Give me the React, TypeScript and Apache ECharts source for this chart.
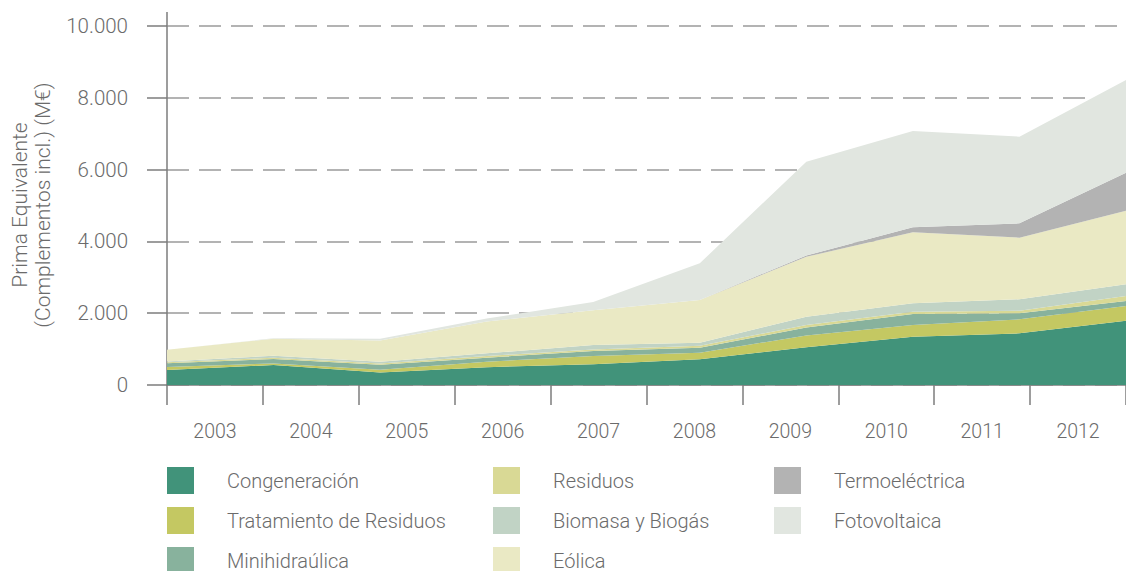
import React, { useEffect, useRef } from "react";
import * as echarts from "echarts";

const years = ["2003", "2004", "2005", "2006", "2007", "2008", "2009", "2010", "2011", "2012"];
const yTicks = [0, 2000, 4000, 6000, 8000, 10000];

const cogeneracion = [418, 557, 350, 495, 580, 715, 1050, 1346, 1439, 1792];
const tratamiento = [80, 45, 75, 155, 228, 185, 330, 325, 391, 408];
const minihidraulica = [105, 125, 140, 111, 139, 140, 220, 307, 166, 140];
const residuos = [30, 35, 37, 47, 45, 55, 70, 65, 74, 139];
const biomasa = [25, 50, 45, 74, 122, 84, 230, 232, 317, 326];
const eolica = [325, 475, 590, 890, 966, 1189, 1670, 1978, 1717, 2050];
const termoelectrica = [0, 0, 0, 0, 0, 0, 40, 140, 399, 1059];
const fotovoltaica = [0, 15, 50, 80, 230, 1022, 2610, 2682, 2414, 2582];

const seriesDefs = [
  { name: "Congeneración", data: cogeneracion, color: "#41937a" },
  { name: "Tratamiento de Residuos", data: tratamiento, color: "#c4c862" },
  { name: "Minihidraúlica", data: minihidraulica, color: "#88b29d" },
  { name: "Residuos", data: residuos, color: "#d9d995" },
  { name: "Biomasa y Biogás", data: biomasa, color: "#c1d3c5" },
  { name: "Eólica", data: eolica, color: "#eae9c4" },
  { name: "Termoeléctrica", data: termoelectrica, color: "#b3b3b3" },
  { name: "Fotovoltaica", data: fotovoltaica, color: "#e1e6e0" },
];

const legendCols = [
  ["Congeneración", "Tratamiento de Residuos", "Minihidraúlica"],
  ["Residuos", "Biomasa y Biogás", "Eólica"],
  ["Termoeléctrica", "Fotovoltaica"],
];
const legendLefts = [167, 493, 774];

const TEXT = "#6b6b6b";
const FONT = "Roboto";

export default function App() {
  const ref = useRef<HTMLDivElement>(null);
  useEffect(() => {
    if (!ref.current) return;
    const chart = echarts.init(ref.current, null, { renderer: "svg" });
    const fmt = (v: number) => {
      const s = String(Math.round(v));
      return s.replace(/\B(?=(\d{3})+(?!\d))/g, ".");
    };
    chart.setOption({
      animation: false,
      textStyle: { fontFamily: FONT },
      grid: { left: 167, right: 0, top: 26, bottom: 186 },
      xAxis: [
        {
          type: "category",
          data: years,
          boundaryGap: true,
          axisLine: { show: true, lineStyle: { color: "#7d7d7d", width: 1.5 } },
          axisTick: { show: true, length: 20, lineStyle: { color: "#7d7d7d", width: 1.5 } },
          axisLabel: { color: TEXT, fontSize: 19.5, fontWeight: 300, margin: 36, fontFamily: FONT },
          splitLine: { show: false },
        },
        {
          type: "category",
          data: years,
          boundaryGap: false,
          show: false,
        },
      ],
      yAxis: {
        type: "value",
        min: yTicks[0],
        max: yTicks[yTicks.length - 1],
        interval: 2000,
        axisLine: { show: true, lineStyle: { color: "#7d7d7d", width: 1.5 } },
        axisTick: { show: true, length: 20, lineStyle: { color: "#7d7d7d", width: 1.5 } },
        axisLabel: { color: TEXT, fontSize: 20.5, fontWeight: 300, margin: 39, formatter: fmt, fontFamily: FONT },
        splitLine: { show: true, lineStyle: { color: "#9a9a9a", width: 1.5, type: [22, 10] } },
      },
      legend: legendCols.map((col, i) => ({
        data: col,
        orient: "vertical",
        left: legendLefts[i],
        top: 467,
        height: 140,
        width: 320,
        padding: 0,
        itemWidth: 27,
        itemHeight: 27,
        itemGap: 13,
        icon: "rect",
        selectedMode: false,
        itemStyle: { borderWidth: 0 },
        textStyle: { color: TEXT, fontSize: 20, fontWeight: 300, fontFamily: FONT, padding: [0, 0, 0, 28] },
      })),
      graphic: [
        {
          type: "line",
          shape: { x1: 167, y1: 12, x2: 167, y2: 26 },
          style: { stroke: "#7d7d7d", lineWidth: 1.5 },
        },
        {
          type: "text",
          x: 31,
          y: 205,
          rotation: Math.PI / 2,
          style: {
            text: "Prima Equivalente\n(Complementos incl.) (M€)",
            fill: TEXT,
            fontSize: 21,
            fontWeight: 300,
            fontFamily: FONT,
            lineHeight: 23,
            align: "center",
            verticalAlign: "middle",
          },
        },
      ],
      series: seriesDefs.map((s) => ({
        name: s.name,
        type: "line",
        stack: "total",
        xAxisIndex: 1,
        data: s.data,
        symbol: "none",
        showSymbol: false,
        color: s.color,
        itemStyle: { color: s.color },
        lineStyle: { width: 0, color: s.color },
        areaStyle: { color: s.color, opacity: 1 },
        emphasis: { disabled: true },
      })),
    });
    return () => chart.dispose();
  }, []);
  return (
    <div
      ref={ref}
      style={{ position: "fixed", left: 0, top: 0, width: 1126, height: 571, background: "#fff" }}
    />
  );
}
